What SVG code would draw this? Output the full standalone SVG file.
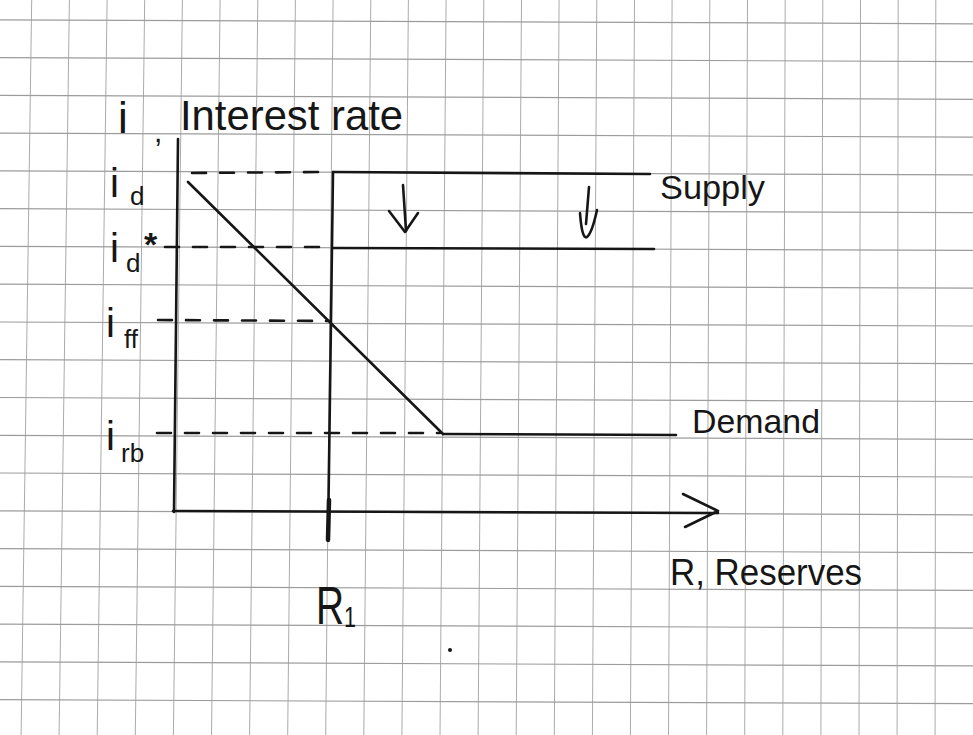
<svg xmlns="http://www.w3.org/2000/svg" width="973" height="735" viewBox="0 0 973 735">
<style>
.gv{stroke:#ababab;stroke-width:1}
.gh{stroke:#9c9c9c;stroke-width:1.2}
.ink{stroke:#161616;stroke-width:2.6;fill:none;stroke-linecap:round;stroke-linejoin:round}
.dash{stroke-dasharray:14 14}
.lbl{font-family:"Liberation Sans",Arial,sans-serif;fill:#161616}
</style>
<rect width="973" height="735" fill="#ffffff"/>
<g id="grid">
<line class="gv" x1="31.7" y1="0" x2="21.1" y2="735"/>
<line class="gv" x1="69.4" y1="0" x2="59.1" y2="735"/>
<line class="gv" x1="107.1" y1="0" x2="97.2" y2="735"/>
<line class="gv" x1="144.7" y1="0" x2="135.3" y2="735"/>
<line class="gv" x1="182.4" y1="0" x2="173.4" y2="735"/>
<line class="gv" x1="220.1" y1="0" x2="211.5" y2="735"/>
<line class="gv" x1="257.8" y1="0" x2="249.6" y2="735"/>
<line class="gv" x1="295.4" y1="0" x2="287.7" y2="735"/>
<line class="gv" x1="333.1" y1="0" x2="325.7" y2="735"/>
<line class="gv" x1="370.8" y1="0" x2="363.8" y2="735"/>
<line class="gv" x1="408.4" y1="0" x2="401.9" y2="735"/>
<line class="gv" x1="446.1" y1="0" x2="440.0" y2="735"/>
<line class="gv" x1="483.8" y1="0" x2="478.1" y2="735"/>
<line class="gv" x1="521.5" y1="0" x2="516.2" y2="735"/>
<line class="gv" x1="559.1" y1="0" x2="554.3" y2="735"/>
<line class="gv" x1="596.8" y1="0" x2="592.4" y2="735"/>
<line class="gv" x1="634.5" y1="0" x2="630.4" y2="735"/>
<line class="gv" x1="672.1" y1="0" x2="668.5" y2="735"/>
<line class="gv" x1="709.8" y1="0" x2="706.6" y2="735"/>
<line class="gv" x1="747.5" y1="0" x2="744.7" y2="735"/>
<line class="gv" x1="785.2" y1="0" x2="782.8" y2="735"/>
<line class="gv" x1="822.8" y1="0" x2="820.9" y2="735"/>
<line class="gv" x1="860.5" y1="0" x2="859.0" y2="735"/>
<line class="gv" x1="898.2" y1="0" x2="897.1" y2="735"/>
<line class="gv" x1="935.8" y1="0" x2="935.1" y2="735"/>
<line class="gh" x1="0" y1="19.8" x2="973" y2="23.8"/>
<line class="gh" x1="0" y1="57.6" x2="973" y2="61.6"/>
<line class="gh" x1="0" y1="95.3" x2="973" y2="99.3"/>
<line class="gh" x1="0" y1="133.1" x2="973" y2="137.1"/>
<line class="gh" x1="0" y1="170.9" x2="973" y2="174.9"/>
<line class="gh" x1="0" y1="208.7" x2="973" y2="212.7"/>
<line class="gh" x1="0" y1="246.4" x2="973" y2="250.4"/>
<line class="gh" x1="0" y1="284.2" x2="973" y2="288.2"/>
<line class="gh" x1="0" y1="322.0" x2="973" y2="326.0"/>
<line class="gh" x1="0" y1="359.7" x2="973" y2="363.7"/>
<line class="gh" x1="0" y1="397.5" x2="973" y2="401.5"/>
<line class="gh" x1="0" y1="435.3" x2="973" y2="439.3"/>
<line class="gh" x1="0" y1="473.0" x2="973" y2="477.0"/>
<line class="gh" x1="0" y1="510.8" x2="973" y2="514.8"/>
<line class="gh" x1="0" y1="548.6" x2="973" y2="552.6"/>
<line class="gh" x1="0" y1="586.4" x2="973" y2="590.4"/>
<line class="gh" x1="0" y1="624.1" x2="973" y2="628.1"/>
<line class="gh" x1="0" y1="661.9" x2="973" y2="665.9"/>
<line class="gh" x1="0" y1="699.7" x2="973" y2="703.7"/>
</g>
<g id="connectors">
<path class="ink" d="M178,139 L174,512"/>
<path class="ink" d="M173,511 L718,513"/>
<path class="ink" d="M683,494 L718,511 L685,527"/>
<path class="ink dash" d="M192,173 L322,172"/>
<path class="ink" d="M333,172 L650,174"/>
<path class="ink" d="M333,172 L328,540"/>
<path class="ink" style="stroke-width:4.5" d="M329,500 L328,540"/>
<path class="ink dash" d="M165,247 L325,247"/>
<path class="ink" d="M333,248 L654,249"/>
<path class="ink dash" d="M158,320 L330,321"/>
<path class="ink" d="M188,182 L443,434"/>
<path class="ink dash" d="M157,433 L440,433"/>
<path class="ink" d="M443,434 L676,435"/>
<path class="ink" d="M403,185 L406,231"/>
<path class="ink" d="M389,211 L405,232 L418,213"/>
<path class="ink" d="M589,187 L586,224"/>
<path class="ink" d="M580,213 Q582,240 587,237 Q592,233 597,210"/>
<circle cx="450" cy="650" r="2" fill="#161616"/>
</g>
<g id="label-y">
<text class="lbl" x="118" y="133" font-size="44">i</text>
<text class="lbl" x="154" y="142" font-size="30">,</text>
<text class="lbl" x="180" y="130" font-size="42" textLength="223" lengthAdjust="spacingAndGlyphs">Interest rate</text>
</g>
<g id="label-id">
<text class="lbl" x="110" y="197" font-size="40">i</text>
<text class="lbl" x="130" y="205" font-size="26">d</text>
</g>
<g id="label-idstar">
<text class="lbl" x="110" y="262" font-size="40">i</text>
<text class="lbl" x="126" y="272" font-size="26">d</text>
<text class="lbl" x="144" y="256" font-size="34" font-weight="bold">*</text>
</g>
<g id="label-iff">
<text class="lbl" x="106" y="337" font-size="40">i</text>
<text class="lbl" x="124" y="348" font-size="26">ff</text>
</g>
<g id="label-irb">
<text class="lbl" x="106" y="450" font-size="40">i</text>
<text class="lbl" x="121" y="462" font-size="26">rb</text>
</g>
<g id="label-supply">
<text class="lbl" x="660" y="199" font-size="34" textLength="105" lengthAdjust="spacingAndGlyphs">Supply</text>
</g>
<g id="label-demand">
<text class="lbl" x="692" y="433" font-size="34" textLength="128" lengthAdjust="spacingAndGlyphs">Demand</text>
</g>
<g id="label-x">
<text class="lbl" x="670" y="585" font-size="36" textLength="192" lengthAdjust="spacingAndGlyphs">R, Reserves</text>
</g>
<g id="label-r1">
<text class="lbl" transform="translate(316,624) scale(0.72,1)" font-size="54">R<tspan font-size="30" dy="3">1</tspan></text>
</g>
</svg>
